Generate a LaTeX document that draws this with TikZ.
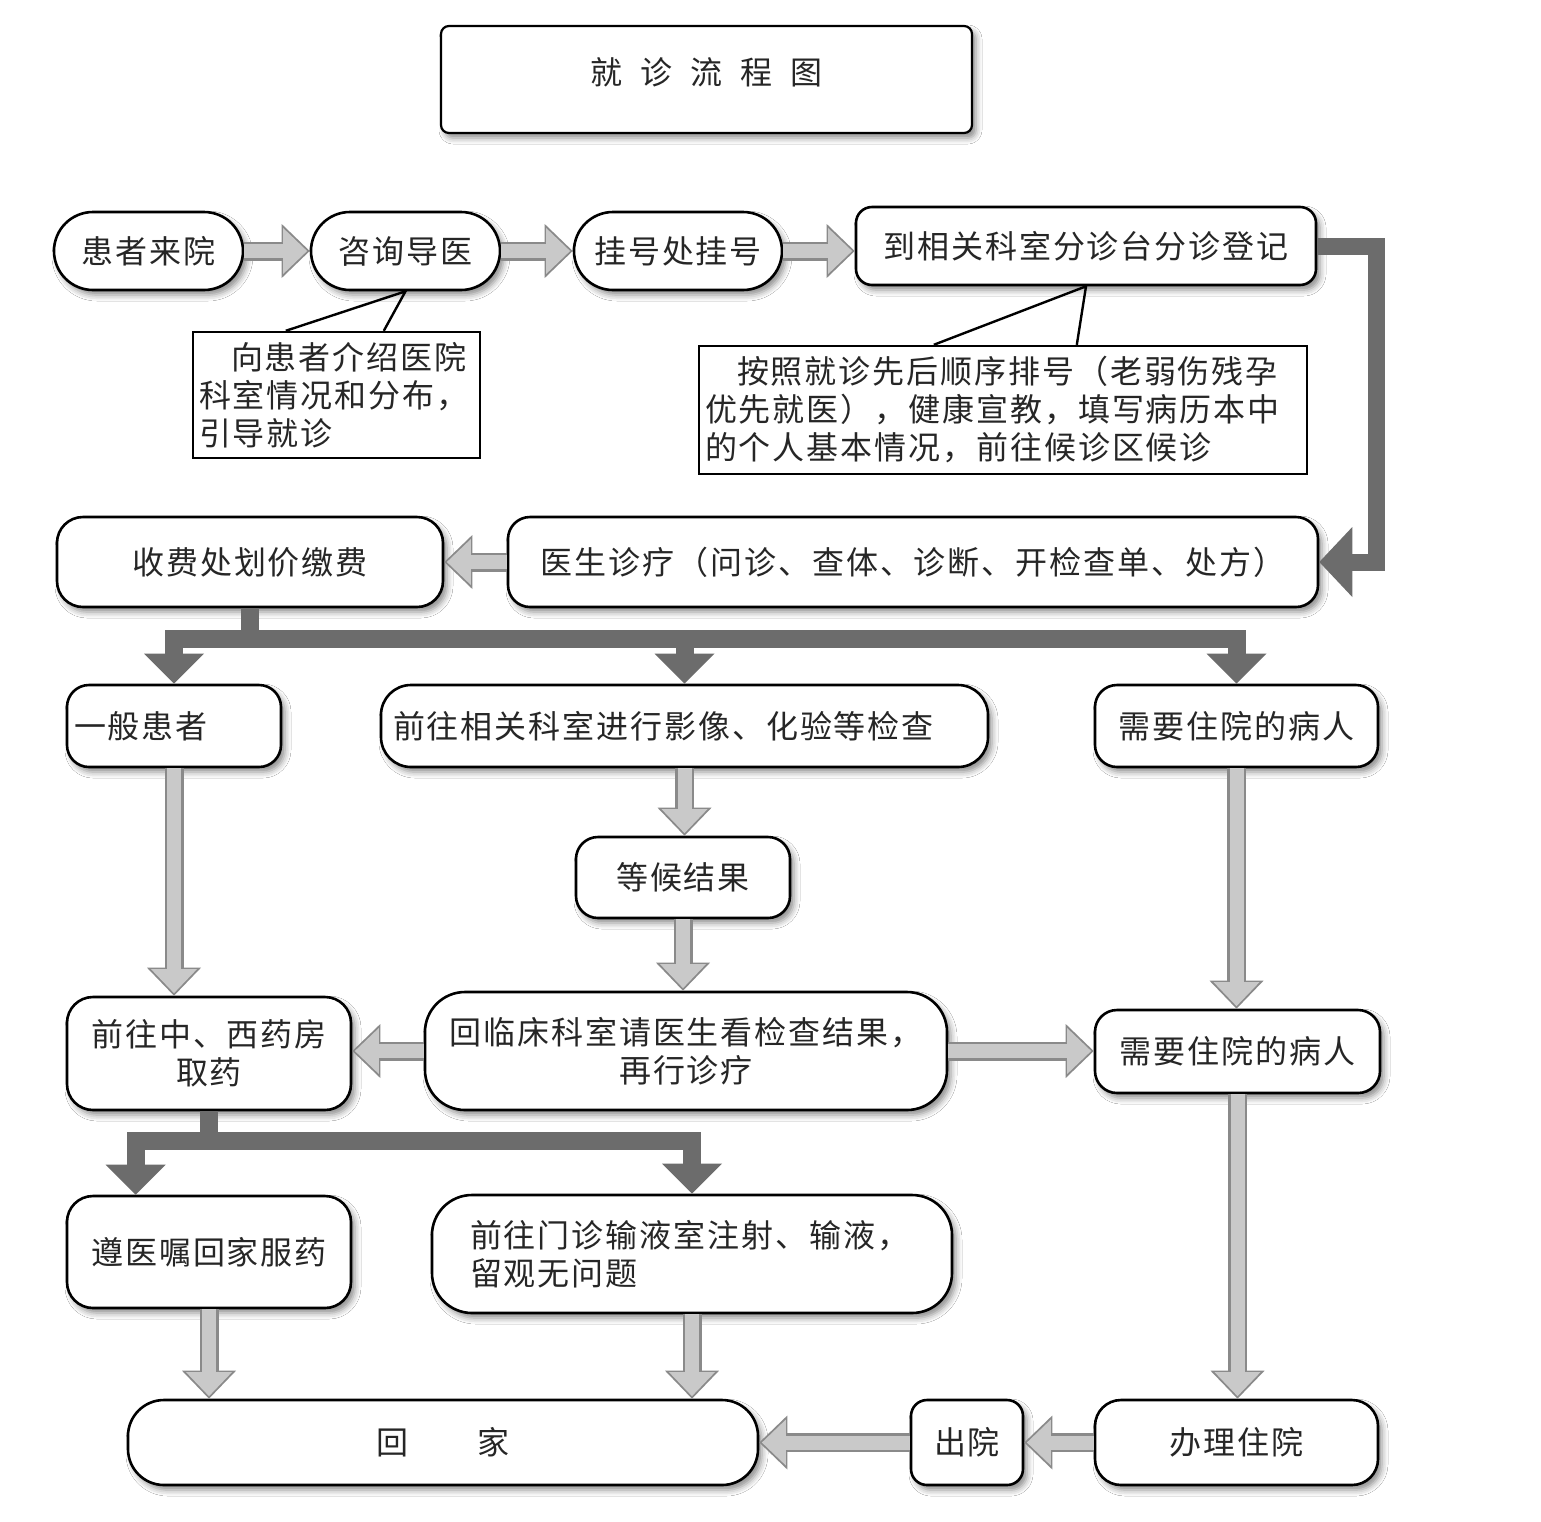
\documentclass[tikz,border=0pt]{standalone}
\usepackage{fontspec}
\setmainfont{Noto Sans CJK SC}
\newfontfamily\cjk[LetterSpace=6]{Noto Sans CJK SC}
\usetikzlibrary{arrows.meta,shadows.blur,calc}
\definecolor{afill}{HTML}{C9C9C9}
\definecolor{aline}{HTML}{8A8A8A}
\definecolor{adark}{HTML}{6C6C6C}
\definecolor{txt}{HTML}{262626}
\tikzset{
  boxbase/.style={draw=black, line width=2.6pt, fill=white, text=txt,
    font=\cjk\fontsize{32}{38}\selectfont, inner sep=0pt,
    blur shadow={shadow xshift=4pt, shadow yshift=-5pt, shadow blur radius=6pt, shadow opacity=45}},
  pill/.style={boxbase, rounded corners=39pt, minimum height=78pt},
  rbox/.style={boxbase, rounded corners=#1},
  rbox/.default=22pt,
  callout/.style={draw=black, line width=2.4pt, fill=white, text=txt,
    font=\cjk\fontsize{32}{38}\selectfont, align=left, inner xsep=6pt, inner ysep=0pt},
  pointer/.style={draw=black, line width=2.4pt, line join=miter},
  larrow/.style={draw=aline, line width=19pt, -{Triangle[length=28pt,width=54pt,line width=0pt]},
    postaction={draw=afill, line width=14pt, shorten >=2.6pt, -{Triangle[length=24pt,width=46pt,line width=0pt]}}},
  darrow/.style={draw=adark, line width=18pt, -{Triangle[length=30pt,width=60pt,line width=0pt]}},
  dbar/.style={draw=adark, line width=18pt, line cap=rect},
  dstub/.style={draw=adark, line width=18pt, line cap=butt},
  delbow/.style={draw=adark, line width=17pt, line join=miter, -{Triangle[length=33pt,width=70pt,line width=0pt]}}
}
\begin{document}
\begin{tikzpicture}[x=1pt,y=-1pt]
\path[fill=white, use as bounding box] (0,0) rectangle (1541,1521);

% title
\node[rbox=8pt, line width=2.2pt, minimum width=531pt, minimum height=107pt, font=\fontsize{32}{38}\selectfont] (title) at (706.5,79.5)
  {\raisebox{16pt}{就\hspace{18pt}诊\hspace{18pt}流\hspace{18pt}程\hspace{18pt}图}};

% row 1
\node[pill, minimum width=189pt] (a) at (148.5,251) {患者来院};
\node[pill, minimum width=189pt] (b) at (405.5,251) {咨询导医};
\node[pill, minimum width=208pt] (c) at (678,251) {挂号处挂号};
\node[rbox=16pt, minimum width=460pt, minimum height=78pt] (d) at (1086,246) {到相关科室分诊台分诊登记};

% callouts
\node[callout, text width=275pt, minimum height=126pt] (co1) at (336.5,395)
  {\hspace*{32pt}向患者介绍医院\\科室情况和分布，\\引导就诊};
\draw[pointer] ($(co1.north west)+(94,0)$) -- (b.south) -- ($(co1.north west)+(192,0)$);
\node[callout, text width=596pt, minimum height=128pt] (co2) at (1003,410)
  {\hspace*{32pt}按照就诊先后顺序排号（老弱伤残孕\\优先就医），健康宣教，填写病历本中\\的个人基本情况，前往候诊区候诊};
\draw[pointer] ($(co2.north west)+(236,0)$) -- (d.south) -- ($(co2.north west)+(379,0)$);

% row 3
\node[rbox=26pt, minimum width=386pt, minimum height=90pt] (fee) at (250,562) {收费处划价缴费};
\node[rbox=22pt, minimum width=810pt, minimum height=90pt] (doc) at (913,562) {医生诊疗（问诊、查体、诊断、开检查单、处方）};

% row 4
\node[rbox=22pt, text width=200pt, inner xsep=7pt, minimum height=82pt, align=left] (gen) at (174,726) {一般患者};
\node[rbox=30pt, text width=583pt, inner xsep=12pt, minimum height=82pt, align=left] (exam) at (684.5,726) {前往相关科室进行影像、化验等检查};
\node[rbox=22pt, minimum width=283pt, minimum height=82pt] (inp) at (1236.5,726) {需要住院的病人};

\node[rbox=22pt, minimum width=214pt, minimum height=81pt] (wait) at (683,877.5) {等候结果};

% row 5
\node[rbox=26pt, minimum width=284pt, minimum height=113pt, align=center] (pharm) at (209,1053.5) {前往中、西药房\\取药};
\node[rbox=40pt, minimum width=522pt, minimum height=118pt, align=center] (recheck) at (686,1051) {回临床科室请医生看检查结果，\\再行诊疗};
\node[rbox=22pt, minimum width=285pt, minimum height=83pt] (inp2) at (1237.5,1051.5) {需要住院的病人};

% row 6
\node[rbox=26pt, minimum width=284pt, minimum height=112pt] (rest) at (209,1252) {遵医嘱回家服药};
\node[rbox=40pt, text width=444pt, inner xsep=38pt, minimum height=118pt, align=left] (iv) at (692,1254) {前往门诊输液室注射、输液，\\留观无问题};

% row 7
\node[rbox=36pt, minimum width=630pt, minimum height=85pt] (home) at (443,1442.5) {回\hspace{70pt}家};
\node[rbox=16pt, minimum width=112pt, minimum height=85pt] (out) at (967,1442.5) {出院};
\node[rbox=26pt, minimum width=283pt, minimum height=85pt] (adm) at (1236.5,1442.5) {办理住院};

% light arrows
\draw[larrow] (a.east) -- (b.west);
\draw[larrow] (b.east) -- (c.west);
\draw[larrow] (c.east) -- (c.east -| d.west);
\draw[larrow] (doc.west) -- (fee.east);
\draw[larrow] (gen.south) -- (gen.south |- pharm.north);
\draw[larrow] (exam.south) -- (exam.south |- wait.north);
\draw[larrow] (wait.south) -- (wait.south |- recheck.north);
\draw[larrow] (inp.south) -- (inp.south |- inp2.north);
\draw[larrow] (recheck.west) -- (recheck.west -| pharm.east);
\draw[larrow] (recheck.east) -- (recheck.east -| inp2.west);
\draw[larrow] (rest.south) -- (rest.south |- home.north);
\draw[larrow] (iv.south) -- (iv.south |- home.north);
\draw[larrow] (inp2.south) -- (inp2.south |- adm.north);
\draw[larrow] (adm.west) -- (out.east);
\draw[larrow] (out.west) -- (home.east);

% dark elbow
\coordinate (k1) at (1376,0);
\draw[delbow] (d.east) -- (d.east -| k1) |- (doc.east);

% branch 1
\coordinate (j1) at ($(fee.south)+(0,31)$);
\draw[dstub] (fee.south) -- (j1);
\draw[dbar] (j1 -| gen.north) -- (j1 -| inp.north);
\draw[darrow] (j1 -| gen.north) -- (gen.north);
\draw[darrow] (j1 -| exam.north) -- (exam.north);
\draw[darrow] (j1 -| inp.north) -- (inp.north);

% branch 2
\coordinate (j2) at ($(pharm.south)+(0,30)$);
\coordinate (b2l) at ($(rest.north west)+(70,0)$);
\draw[dstub] (pharm.south) -- (j2);
\draw[dbar] (j2 -| b2l) -- (j2 -| iv.north);
\draw[darrow] (j2 -| b2l) -- (b2l);
\draw[darrow] (j2 -| iv.north) -- (iv.north);
\end{tikzpicture}
\end{document}
